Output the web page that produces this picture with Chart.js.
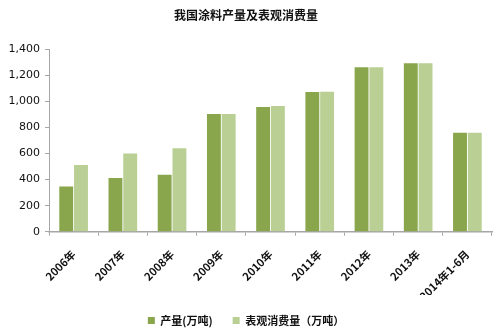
<!DOCTYPE html>
<html>
<head>
<meta charset="utf-8">
<script src="https://cdn.jsdelivr.net/npm/chart.js@4"></script>
<style>
  html, body { margin: 0; padding: 0; background: #fff; }
  #wrap { width: 501px; height: 336px; }
</style>
</head>
<body>
<div id="wrap"><canvas id="barChart" width="501" height="336"></canvas></div>
<script>
var years = ["2006年", "2007年", "2008年", "2009年", "2010年", "2011年", "2012年", "2013年", "2014年1-6月"];
var output = [348, 412, 438, 904, 958, 1073, 1263, 1294, 759];
var consumption = [512, 601, 641, 904, 965, 1075, 1263, 1294, 759];
var yTicks = [0, 200, 400, 600, 800, 1000, 1200, 1400];

var cjk = "'Noto Sans CJK SC', 'DejaVu Sans', sans-serif";

//-------------
//- BAR CHART -
//-------------
var ctx = document.getElementById("barChart").getContext("2d");

new Chart(ctx, {
    type: "bar",
    data: {
        labels: years,
        datasets: [
            {
                label: "产量(万吨)",
                data: output,
                backgroundColor: "#8aa64d",
                categoryPercentage: 0.6,
                barPercentage: 0.94,
            },
            {
                label: "表观消费量（万吨）",
                data: consumption,
                backgroundColor: "#b9cf93",
                categoryPercentage: 0.6,
                barPercentage: 0.94,
            },
        ],
    },
    options: {
        responsive: false,
        animation: false,
        layout: { padding: { left: 0, right: 9, top: 4, bottom: 0 } },
        plugins: {
            title: {
                display: true,
                text: "我国涂料产量及表观消费量",
                color: "#111",
                font: { family: cjk, size: 12, weight: "bold" },
                padding: { top: 4, bottom: 27 },
            },
            legend: {
                position: "bottom",
                labels: {
                    boxWidth: 7,
                    boxHeight: 7,
                    padding: 20,
                    color: "#111",
                    font: { family: cjk, size: 11, weight: "bold" },
                },
            },
            tooltip: { enabled: false },
        },
        scales: {
            x: {
                // rotated labels reserve more room than they need
                afterFit: (scale) => {
                    scale.height = scale.height - 20;
                },
                grid: {
                    offset: true,
                    drawOnChartArea: false,
                    drawTicks: true,
                    tickLength: 4,
                    color: "#a6a6a6",
                },
                border: { color: "#a6a6a6", width: 1.5 },
                ticks: {
                    color: "#111",
                    minRotation: 45,
                    maxRotation: 45,
                    padding: 12,
                    font: { family: cjk, size: 11, weight: "bold" },
                },
            },
            y: {
                min: 0,
                max: 1400,
                afterFit: (scale) => {
                    scale.width = 49;
                },
                afterBuildTicks: (scale) => {
                    scale.ticks = yTicks.map((v) => ({ value: v }));
                },
                grid: {
                    drawOnChartArea: false,
                    drawTicks: true,
                    tickLength: 4,
                    color: "#a6a6a6",
                },
                border: { color: "#a6a6a6", width: 1 },
                ticks: {
                    color: "#111",
                    padding: 5,
                    font: { family: "'DejaVu Sans', sans-serif", size: 11 },
                    callback: (v) => v.toLocaleString("en-US"),
                },
            },
        },
    },
});
</script>
</body>
</html>
